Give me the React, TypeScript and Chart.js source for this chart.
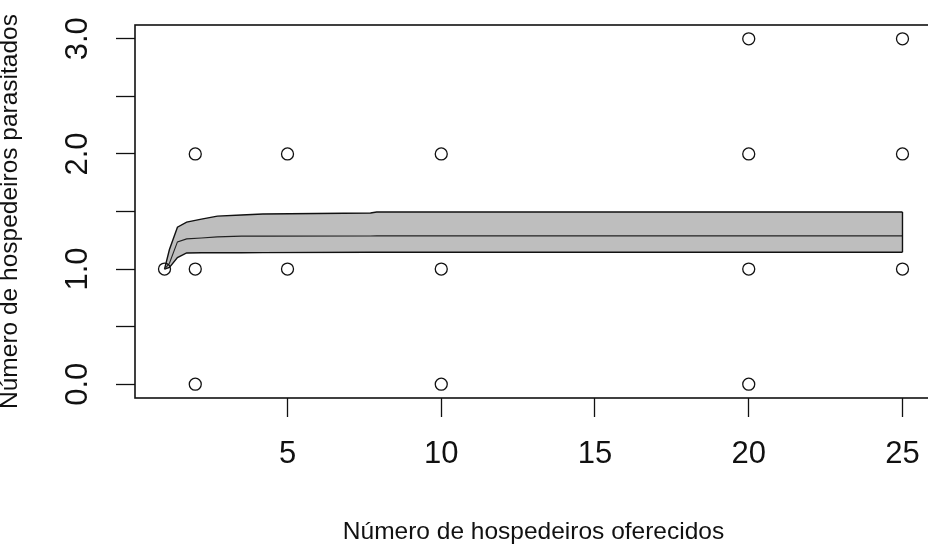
import React, { useEffect, useRef } from "react";
import { Chart, registerables } from "chart.js";

Chart.register(...registerables);

// Observed points (x = hosts offered, y = hosts parasitized)
const pointX = [1, 2, 2, 2, 5, 5, 10, 10, 10, 20, 20, 20, 20, 25, 25, 25];
const pointY = [1, 0, 1, 2, 1, 2, 0, 1, 2, 0, 1, 2, 3, 1, 2, 3];

// Fitted curve with confidence band
const bandX = [1, 1.16, 1.42, 1.72, 2.2, 2.72, 3.5, 4.2, 7.7, 7.9, 25];
const bandUpper = [1.0, 1.17, 1.364, 1.408, 1.434, 1.46, 1.47, 1.478, 1.487, 1.496, 1.496];
const bandMean = [1.0, 1.05, 1.236, 1.262, 1.27, 1.28, 1.286, 1.286, 1.287, 1.288, 1.288];
const bandLower = [1.0, 1.015, 1.1, 1.14, 1.142, 1.142, 1.142, 1.143, 1.146, 1.146, 1.146];

const xTicks = [5, 10, 15, 20, 25];
const yTicks = [0, 0.5, 1, 1.5, 2, 2.5, 3];
const yTickLabels = ["0.0", "", "1.0", "", "2.0", "", "3.0"];

const xTitle = "Número de hospedeiros oferecidos";
const yTitle = "Número de hospedeiros parasitados";

const FONT = "'Liberation Sans', Arial, sans-serif";

const boxPlugin = {
  id: "rbox",
  afterDraw(chart: any) {
    const { ctx, chartArea: a } = chart;
    ctx.save();
    ctx.strokeStyle = "#111";
    ctx.lineWidth = 1.6;
    ctx.strokeRect(a.left, a.top, a.right - a.left, a.bottom - a.top);
    ctx.restore();
  },
};

export default function App() {
  const ref = useRef<HTMLCanvasElement>(null);
  useEffect(() => {
    if (!ref.current) return;
    const line = (ys: number[]) => bandX.map((x, i) => ({ x, y: ys[i] }));
    const last = bandX.length - 1;
    const chart = new Chart(ref.current, {
      type: "scatter",
      data: {
        datasets: [
          {
            label: "lower",
            type: "line",
            order: 4,
            data: line(bandLower),
            borderColor: "#111",
            borderWidth: 1.4,
            pointRadius: 0,
            fill: false,
          } as any,
          {
            label: "upper",
            type: "line",
            order: 5,
            data: line(bandUpper),
            borderColor: "#111",
            borderWidth: 1.4,
            pointRadius: 0,
            backgroundColor: "#bebebe",
            fill: { target: 0 },
          } as any,
          {
            label: "mean",
            type: "line",
            order: 3,
            data: line(bandMean),
            borderColor: "#222",
            borderWidth: 1.1,
            pointRadius: 0,
            fill: false,
          } as any,
          {
            label: "edge",
            type: "line",
            order: 2,
            data: [
              { x: bandX[last], y: bandLower[last] },
              { x: bandX[last], y: bandUpper[last] },
            ],
            borderColor: "#111",
            borderWidth: 1.4,
            pointRadius: 0,
            fill: false,
          } as any,
          {
            label: "obs",
            order: 1,
            data: pointX.map((x, i) => ({ x, y: pointY[i] })),
            pointRadius: 6,
            pointBorderWidth: 1.3,
            pointBorderColor: "#111",
            pointBackgroundColor: "rgba(0,0,0,0)",
            showLine: false,
          } as any,
        ],
      },
      options: {
        responsive: false,
        animation: false,
        layout: { padding: { left: 0, top: 25, right: 8, bottom: 0 } },
        plugins: {
          legend: { display: false },
          tooltip: { enabled: false },
        },
        scales: {
          x: {
            type: "linear",
            min: 0.04,
            max: 25.96,
            afterBuildTicks: (s: any) => {
              s.ticks = xTicks.map((v) => ({ value: v }));
            },
            afterFit: (s: any) => {
              s.height = 154;
              s.paddingLeft = 0;
              s.paddingRight = 0;
              s.paddingTop = 0;
              s.paddingBottom = 0;
            },
            border: { display: false },
            grid: {
              drawOnChartArea: false,
              drawTicks: true,
              tickLength: 19,
              tickColor: "#111",
              tickWidth: 1.3,
            },
            ticks: {
              autoSkip: false,
              maxRotation: 0,
              padding: 19,
              color: "#111",
              font: { family: FONT, size: 31 },
              callback: (v: any) => String(v),
            },
            title: {
              display: true,
              text: xTitle,
              color: "#111",
              font: { family: FONT, size: 24.5 },
              padding: { top: 0, bottom: 5 },
            },
          },
          y: {
            type: "linear",
            min: -0.12,
            max: 3.12,
            afterBuildTicks: (s: any) => {
              s.ticks = yTicks.map((v) => ({ value: v }));
            },
            afterFit: (s: any) => {
              s.width = 135;
              s.paddingLeft = 0;
              s.paddingRight = 0;
              s.paddingTop = 0;
              s.paddingBottom = 0;
            },
            border: { display: false },
            grid: {
              drawOnChartArea: false,
              drawTicks: true,
              tickLength: 19,
              tickColor: "#111",
              tickWidth: 1.3,
            },
            ticks: {
              autoSkip: false,
              minRotation: 90,
              maxRotation: 90,
              crossAlign: "center",
              padding: 16,
              color: "#111",
              font: { family: FONT, size: 31 },
              callback: (v: any) => {
                const i = yTicks.indexOf(Number(v));
                return i >= 0 ? yTickLabels[i] : "";
              },
            },
            title: {
              display: true,
              text: yTitle,
              color: "#111",
              font: { family: FONT, size: 24.5 },
              padding: { top: -4.5, bottom: 0 },
            },
          },
        },
      },
      plugins: [boxPlugin],
    });
    return () => chart.destroy();
  }, []);

  return (
    <div style={{ position: "fixed", left: 0, top: 0, width: 940, height: 552, background: "#fff" }}>
      <canvas ref={ref} width={940} height={552} style={{ display: "block" }} />
    </div>
  );
}
